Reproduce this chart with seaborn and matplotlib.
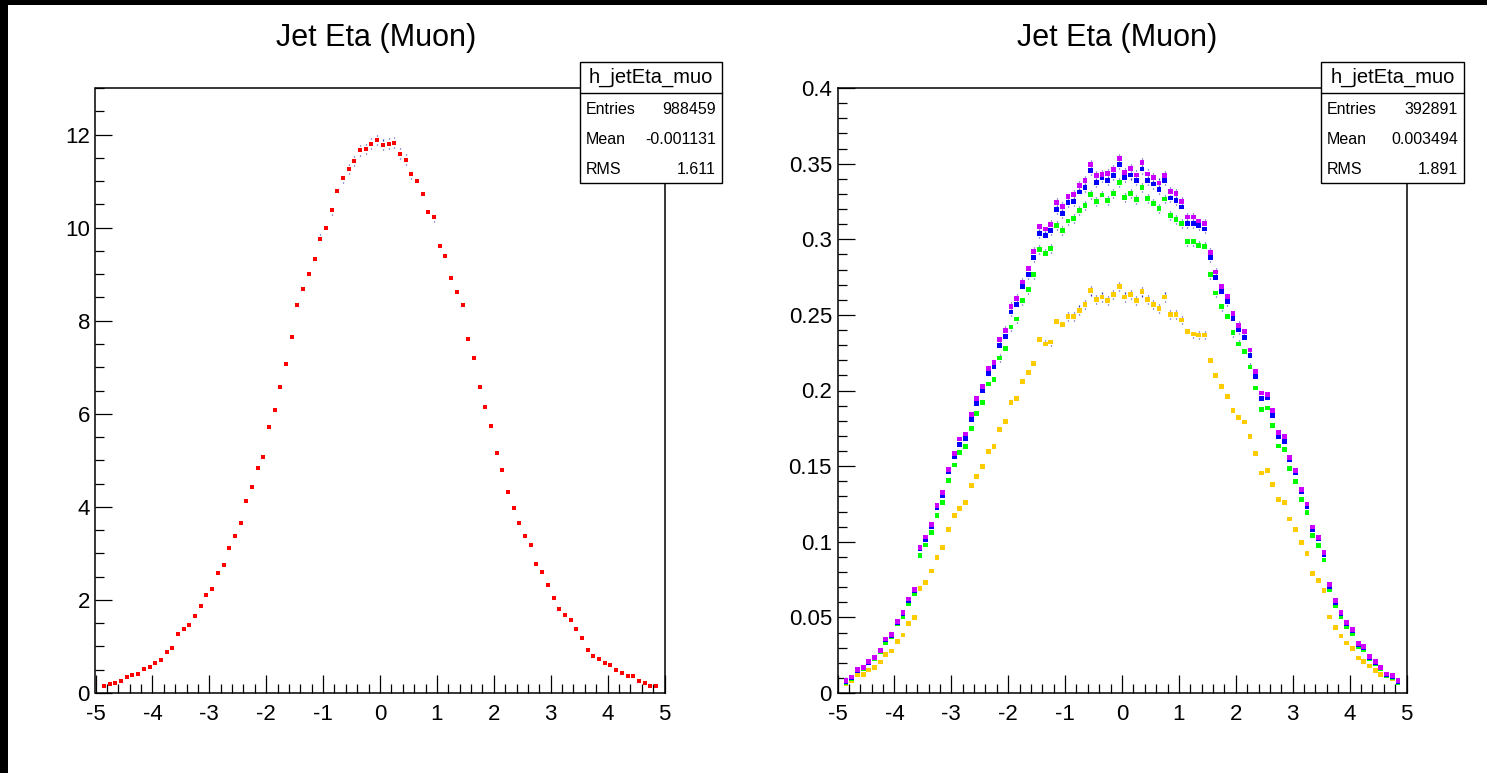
import numpy as np
import pandas as pd
import matplotlib
matplotlib.use("Agg")
import matplotlib.pyplot as plt
from matplotlib.patches import Rectangle
from matplotlib.lines import Line2D
from matplotlib.ticker import MultipleLocator, FuncFormatter
import seaborn as sns

# ---------------------------------------------------------------- binning
eta_lo, eta_hi, n_bins = -4.9, 4.9, 98
edges = np.linspace(eta_lo, eta_hi, n_bins + 1)
eta = 0.5 * (edges[:-1] + edges[1:])

# ---------------------------------------------------------------- left pad: jet eta
left_vals = [
    0.143, 0.183, 0.215, 0.262, 0.334, 0.382, 0.413, 0.525, 0.556, 0.652,
    0.707, 0.874, 0.970, 1.272, 1.367, 1.463, 1.661, 1.860, 2.107, 2.226,
    2.576, 2.742, 3.116, 3.363, 3.657, 4.126, 4.420, 4.841, 5.064, 5.723,
    6.089, 6.566, 7.075, 7.639, 8.331, 8.680, 8.998, 9.316, 9.762, 10.000,
    10.374, 10.795, 11.065, 11.264, 11.431, 11.661, 11.685, 11.804, 11.884, 11.781,
    11.804, 11.828, 11.590, 11.463, 11.161, 10.994, 10.723, 10.326, 10.223, 9.610,
    9.396, 8.919, 8.609, 8.331, 7.615, 7.202, 6.566, 6.145, 5.739, 5.159,
    4.793, 4.324, 3.975, 3.657, 3.363, 3.188, 2.774, 2.599, 2.321, 2.051,
    1.812, 1.669, 1.566, 1.367, 1.176, 0.930, 0.787, 0.731, 0.636, 0.604,
    0.485, 0.429, 0.366, 0.366, 0.254, 0.215, 0.159, 0.159]
left_errs = [
    0.011, 0.012, 0.013, 0.015, 0.017, 0.018, 0.019, 0.021, 0.022, 0.023,
    0.024, 0.027, 0.029, 0.033, 0.034, 0.035, 0.037, 0.040, 0.042, 0.043,
    0.047, 0.048, 0.051, 0.053, 0.055, 0.059, 0.061, 0.064, 0.065, 0.069,
    0.072, 0.074, 0.077, 0.080, 0.084, 0.085, 0.087, 0.089, 0.091, 0.092,
    0.093, 0.095, 0.096, 0.108, 0.110, 0.112, 0.112, 0.114, 0.115, 0.114,
    0.114, 0.114, 0.112, 0.110, 0.106, 0.096, 0.095, 0.093, 0.093, 0.090,
    0.089, 0.087, 0.085, 0.084, 0.080, 0.078, 0.074, 0.072, 0.069, 0.066,
    0.063, 0.060, 0.058, 0.055, 0.053, 0.052, 0.048, 0.047, 0.044, 0.042,
    0.039, 0.037, 0.036, 0.034, 0.031, 0.028, 0.026, 0.025, 0.023, 0.023,
    0.020, 0.019, 0.018, 0.018, 0.015, 0.013, 0.012, 0.012]

# ---------------------------------------------------------------- right pad: four samples
violet_vals = [
    0.0080, 0.0106, 0.0155, 0.0171, 0.0208, 0.0237, 0.0283, 0.0357, 0.0389, 0.0473,
    0.0531, 0.0621, 0.0686, 0.0964, 0.1031, 0.1116, 0.1242, 0.1324, 0.1478, 0.1582,
    0.1679, 0.1713, 0.1843, 0.1947, 0.2029, 0.2143, 0.2186, 0.2338, 0.2399, 0.2556,
    0.2609, 0.2717, 0.2804, 0.2918, 0.3082, 0.3068, 0.3099, 0.3242, 0.3217, 0.3280,
    0.3297, 0.3355, 0.3386, 0.3493, 0.3423, 0.3428, 0.3435, 0.3459, 0.3534, 0.3444,
    0.3466, 0.3425, 0.3507, 0.3432, 0.3406, 0.3372, 0.3423, 0.3316, 0.3302, 0.3251,
    0.3147, 0.3147, 0.3121, 0.3104, 0.2911, 0.2783, 0.2688, 0.2621, 0.2507, 0.2432,
    0.2389, 0.2268, 0.2126, 0.1983, 0.1971, 0.1870, 0.1722, 0.1696, 0.1558, 0.1471,
    0.1345, 0.1249, 0.1097, 0.1029, 0.0928, 0.0715, 0.0611, 0.0531, 0.0466, 0.0420,
    0.0326, 0.0307, 0.0242, 0.0208, 0.0171, 0.0126, 0.0116, 0.0082]
blue_vals = [
    0.0075, 0.0101, 0.0150, 0.0167, 0.0203, 0.0232, 0.0278, 0.0350, 0.0382, 0.0466,
    0.0524, 0.0609, 0.0676, 0.0954, 0.1014, 0.1097, 0.1225, 0.1304, 0.1466, 0.1565,
    0.1645, 0.1684, 0.1809, 0.1915, 0.1998, 0.2111, 0.2155, 0.2300, 0.2357, 0.2519,
    0.2570, 0.2688, 0.2766, 0.2877, 0.3039, 0.3027, 0.3056, 0.3196, 0.3171, 0.3242,
    0.3251, 0.3312, 0.3341, 0.3454, 0.3377, 0.3406, 0.3386, 0.3420, 0.3493, 0.3406,
    0.3425, 0.3386, 0.3464, 0.3386, 0.3365, 0.3331, 0.3386, 0.3273, 0.3254, 0.3213,
    0.3104, 0.3104, 0.3092, 0.3068, 0.2877, 0.2749, 0.2657, 0.2587, 0.2478, 0.2401,
    0.2353, 0.2234, 0.2092, 0.1947, 0.1954, 0.1836, 0.1693, 0.1664, 0.1543, 0.1457,
    0.1329, 0.1234, 0.1082, 0.1019, 0.0918, 0.0703, 0.0599, 0.0522, 0.0457, 0.0411,
    0.0319, 0.0300, 0.0234, 0.0200, 0.0167, 0.0121, 0.0111, 0.0077]
green_vals = [
    0.0070, 0.0097, 0.0145, 0.0162, 0.0198, 0.0227, 0.0271, 0.0336, 0.0374, 0.0459,
    0.0507, 0.0594, 0.0657, 0.0911, 0.0978, 0.1063, 0.1174, 0.1258, 0.1403, 0.1507,
    0.1592, 0.1628, 0.1749, 0.1848, 0.1920, 0.2043, 0.2072, 0.2215, 0.2278, 0.2420,
    0.2473, 0.2594, 0.2667, 0.2766, 0.2932, 0.2908, 0.2940, 0.3092, 0.3058, 0.3121,
    0.3135, 0.3188, 0.3225, 0.3297, 0.3251, 0.3292, 0.3258, 0.3302, 0.3377, 0.3278,
    0.3304, 0.3261, 0.3341, 0.3271, 0.3239, 0.3203, 0.3266, 0.3157, 0.3130, 0.3104,
    0.2983, 0.2983, 0.2961, 0.2954, 0.2766, 0.2645, 0.2553, 0.2488, 0.2382, 0.2307,
    0.2258, 0.2155, 0.2017, 0.1877, 0.1884, 0.1771, 0.1633, 0.1611, 0.1483, 0.1401,
    0.1280, 0.1191, 0.1039, 0.0973, 0.0879, 0.0681, 0.0580, 0.0502, 0.0442, 0.0396,
    0.0309, 0.0287, 0.0227, 0.0193, 0.0159, 0.0116, 0.0104, 0.0070]
orange_vals = [
    0.0063, 0.0080, 0.0121, 0.0121, 0.0152, 0.0171, 0.0205, 0.0256, 0.0278, 0.0338,
    0.0384, 0.0459, 0.0498, 0.0691, 0.0729, 0.0807, 0.0896, 0.0961, 0.1082, 0.1174,
    0.1222, 0.1258, 0.1370, 0.1432, 0.1500, 0.1599, 0.1628, 0.1742, 0.1795, 0.1920,
    0.1947, 0.2058, 0.2118, 0.2179, 0.2336, 0.2307, 0.2321, 0.2457, 0.2435, 0.2490,
    0.2490, 0.2531, 0.2570, 0.2659, 0.2601, 0.2618, 0.2597, 0.2633, 0.2686, 0.2618,
    0.2633, 0.2594, 0.2652, 0.2601, 0.2568, 0.2541, 0.2618, 0.2502, 0.2502, 0.2466,
    0.2389, 0.2374, 0.2367, 0.2367, 0.2200, 0.2101, 0.2027, 0.1959, 0.1870, 0.1824,
    0.1792, 0.1696, 0.1585, 0.1454, 0.1469, 0.1379, 0.1280, 0.1258, 0.1150, 0.1082,
    0.0993, 0.0920, 0.0790, 0.0744, 0.0676, 0.0502, 0.0435, 0.0377, 0.0331, 0.0295,
    0.0232, 0.0208, 0.0179, 0.0150, 0.0121, 0.0116, 0.0092, 0.0068]

violet_errs = [
    0.0005, 0.0005, 0.0006, 0.0007, 0.0007, 0.0008, 0.0009, 0.0010, 0.0010, 0.0011,
    0.0012, 0.0013, 0.0013, 0.0016, 0.0016, 0.0017, 0.0018, 0.0019, 0.0020, 0.0020,
    0.0021, 0.0021, 0.0022, 0.0023, 0.0023, 0.0024, 0.0024, 0.0025, 0.0025, 0.0026,
    0.0026, 0.0027, 0.0027, 0.0028, 0.0028, 0.0028, 0.0028, 0.0029, 0.0029, 0.0029,
    0.0029, 0.0030, 0.0030, 0.0030, 0.0030, 0.0030, 0.0030, 0.0030, 0.0030, 0.0030,
    0.0030, 0.0030, 0.0030, 0.0030, 0.0030, 0.0030, 0.0030, 0.0029, 0.0029, 0.0029,
    0.0029, 0.0029, 0.0028, 0.0028, 0.0028, 0.0027, 0.0026, 0.0026, 0.0026, 0.0025,
    0.0025, 0.0024, 0.0024, 0.0023, 0.0023, 0.0022, 0.0021, 0.0021, 0.0020, 0.0020,
    0.0019, 0.0018, 0.0017, 0.0016, 0.0016, 0.0014, 0.0013, 0.0012, 0.0011, 0.0010,
    0.0009, 0.0009, 0.0008, 0.0007, 0.0007, 0.0006, 0.0005, 0.0005]
blue_errs = [
    0.0004, 0.0005, 0.0006, 0.0007, 0.0007, 0.0008, 0.0009, 0.0010, 0.0010, 0.0011,
    0.0012, 0.0013, 0.0013, 0.0016, 0.0016, 0.0017, 0.0018, 0.0018, 0.0020, 0.0020,
    0.0021, 0.0021, 0.0022, 0.0022, 0.0023, 0.0023, 0.0024, 0.0024, 0.0025, 0.0026,
    0.0026, 0.0026, 0.0027, 0.0027, 0.0028, 0.0028, 0.0028, 0.0029, 0.0029, 0.0029,
    0.0029, 0.0029, 0.0029, 0.0030, 0.0030, 0.0030, 0.0030, 0.0030, 0.0030, 0.0030,
    0.0030, 0.0030, 0.0030, 0.0030, 0.0030, 0.0029, 0.0030, 0.0029, 0.0029, 0.0029,
    0.0028, 0.0028, 0.0028, 0.0028, 0.0027, 0.0027, 0.0026, 0.0026, 0.0025, 0.0025,
    0.0025, 0.0024, 0.0023, 0.0023, 0.0023, 0.0022, 0.0021, 0.0021, 0.0020, 0.0019,
    0.0019, 0.0018, 0.0017, 0.0016, 0.0015, 0.0014, 0.0012, 0.0012, 0.0011, 0.0010,
    0.0009, 0.0009, 0.0008, 0.0007, 0.0007, 0.0006, 0.0005, 0.0004]
green_errs = [
    0.0004, 0.0005, 0.0006, 0.0006, 0.0007, 0.0008, 0.0008, 0.0009, 0.0010, 0.0011,
    0.0011, 0.0012, 0.0013, 0.0015, 0.0016, 0.0017, 0.0017, 0.0018, 0.0019, 0.0020,
    0.0020, 0.0021, 0.0021, 0.0022, 0.0022, 0.0023, 0.0023, 0.0024, 0.0024, 0.0025,
    0.0025, 0.0026, 0.0026, 0.0027, 0.0028, 0.0028, 0.0028, 0.0028, 0.0028, 0.0028,
    0.0029, 0.0029, 0.0029, 0.0029, 0.0029, 0.0029, 0.0029, 0.0029, 0.0030, 0.0029,
    0.0029, 0.0029, 0.0029, 0.0029, 0.0029, 0.0029, 0.0029, 0.0029, 0.0029, 0.0028,
    0.0028, 0.0028, 0.0028, 0.0028, 0.0027, 0.0026, 0.0026, 0.0025, 0.0025, 0.0024,
    0.0024, 0.0024, 0.0023, 0.0022, 0.0022, 0.0021, 0.0021, 0.0020, 0.0020, 0.0019,
    0.0018, 0.0018, 0.0016, 0.0016, 0.0015, 0.0013, 0.0012, 0.0011, 0.0011, 0.0010,
    0.0009, 0.0009, 0.0008, 0.0007, 0.0006, 0.0005, 0.0005, 0.0004]
orange_errs = [
    0.0004, 0.0005, 0.0006, 0.0006, 0.0006, 0.0007, 0.0007, 0.0008, 0.0009, 0.0009,
    0.0010, 0.0011, 0.0011, 0.0013, 0.0014, 0.0014, 0.0015, 0.0016, 0.0017, 0.0017,
    0.0018, 0.0018, 0.0019, 0.0019, 0.0020, 0.0020, 0.0021, 0.0021, 0.0022, 0.0022,
    0.0023, 0.0023, 0.0023, 0.0024, 0.0025, 0.0024, 0.0025, 0.0025, 0.0025, 0.0029,
    0.0029, 0.0031, 0.0031, 0.0031, 0.0031, 0.0031, 0.0031, 0.0031, 0.0031, 0.0031,
    0.0031, 0.0031, 0.0031, 0.0031, 0.0031, 0.0031, 0.0031, 0.0031, 0.0031, 0.0029,
    0.0025, 0.0025, 0.0025, 0.0025, 0.0024, 0.0023, 0.0023, 0.0023, 0.0022, 0.0022,
    0.0022, 0.0021, 0.0020, 0.0019, 0.0020, 0.0019, 0.0018, 0.0018, 0.0017, 0.0017,
    0.0016, 0.0015, 0.0014, 0.0014, 0.0013, 0.0011, 0.0011, 0.0010, 0.0009, 0.0009,
    0.0008, 0.0007, 0.0007, 0.0006, 0.0006, 0.0005, 0.0005, 0.0004]

samples = ["orange", "green", "blue", "violet"]          # drawing order
sample_vals = {"orange": orange_vals, "green": green_vals,
               "blue": blue_vals, "violet": violet_vals}
sample_errs = {"orange": orange_errs, "green": green_errs,
               "blue": blue_errs, "violet": violet_errs}
palette = {"orange": "#ffcc00", "green": "#00ff00",
           "blue": "#0000ff", "violet": "#cc00ff"}

title_text = "Jet Eta (Muon)"
hist_name = "h_jetEta_muo"
stat_labels = ["Entries", "Mean", "RMS"]
stats_left = ["988459", "-0.001131", "1.611"]
stats_right = ["392891", "0.003494", "1.891"]

# ---------------------------------------------------------------- style
sns.set_style("white")
plt.rcParams["font.family"] = ["Liberation Sans", "DejaVu Sans"]
plt.rcParams["axes.unicode_minus"] = False
plt.rcParams["text.color"] = "black"
plt.rcParams["xtick.color"] = "black"
plt.rcParams["ytick.color"] = "black"
plt.rcParams["xtick.bottom"] = True
plt.rcParams["ytick.left"] = True

W, H = 1487, 773
fig = plt.figure(figsize=(W / 100, H / 100), dpi=100)
fig.patch.set_facecolor("white")

ERR_COLOR = "#000099"
MARKER_S = 12


def frame_axes(rect_px):
    x0, y0, x1, y1 = rect_px
    return fig.add_axes([x0 / W, 1 - y1 / H, (x1 - x0) / W, (y1 - y0) / H])


def draw_errors(ax, x, vals, errs, gap):
    v = np.asarray(vals, dtype=float)
    e = np.asarray(errs, dtype=float)
    m = e > gap
    kw = dict(color=ERR_COLOR, lw=0.9, alpha=0.8, zorder=2)
    ax.vlines(x[m], v[m] + gap, v[m] + e[m], **kw)
    ax.vlines(x[m], v[m] - e[m], v[m] - gap, **kw)


def style_axes(ax, ymax, ymajor, yminor):
    ax.set_xlim(-5, 5)
    ax.set_ylim(0, ymax)
    ax.xaxis.set_major_locator(MultipleLocator(1))
    ax.xaxis.set_minor_locator(MultipleLocator(0.2))
    ax.yaxis.set_major_locator(MultipleLocator(ymajor))
    ax.yaxis.set_minor_locator(MultipleLocator(yminor))
    fmt = FuncFormatter(lambda v, p: f"{round(v, 6):g}")
    ax.xaxis.set_major_formatter(fmt)
    ax.yaxis.set_major_formatter(fmt)
    ax.tick_params(axis="x", which="both", bottom=True, top=False, direction="in",
                   colors="black", width=0.9)
    ax.tick_params(axis="y", which="both", left=True, right=False, direction="in",
                   colors="black", width=0.9)
    ax.tick_params(axis="x", which="major", length=13, labelsize=16, pad=8)
    ax.tick_params(axis="x", which="minor", length=6.8)
    ax.tick_params(axis="y", which="major", length=12.5, labelsize=16, pad=4)
    ax.tick_params(axis="y", which="minor", length=6.3)
    for s in ax.spines.values():
        s.set_color("black")
        s.set_linewidth(1.1)
    ax.set_xlabel("")
    ax.set_ylabel("")
    ax.grid(False)


# ---------------------------------------------------------------- left pad
ax1 = frame_axes((95.5, 88, 664.5, 693))
draw_errors(ax1, eta, left_vals, left_errs, gap=0.09)
sns.scatterplot(x=eta, y=left_vals, color="#ff0000", marker="s", s=MARKER_S,
                linewidth=0, ax=ax1, zorder=3, legend=False)
style_axes(ax1, 13, 2, 0.5)

# ---------------------------------------------------------------- right pad
ax2 = frame_axes((837.5, 88, 1406.5, 693))
df = pd.concat([pd.DataFrame({"eta": eta, "value": sample_vals[k], "sample": k})
                for k in samples], ignore_index=True)
for k in samples:
    draw_errors(ax2, eta, sample_vals[k], sample_errs[k], gap=0.0023)
sns.scatterplot(data=df, x="eta", y="value", hue="sample", hue_order=samples,
                palette=palette, marker="s", s=MARKER_S, linewidth=0, ax=ax2,
                zorder=3, legend=False)
style_axes(ax2, 0.4, 0.05, 0.01)

# ---------------------------------------------------------------- titles
for cx in (376, 1117):
    fig.text(cx / W, 1 - 38 / H, title_text, ha="center", va="center",
             fontsize=22, color="black")


# ---------------------------------------------------------------- statistics boxes
def stats_box(x0, x1, values):
    y0, y1, ydiv = 62, 183, 92.5
    fig.add_artist(Rectangle((x0 / W, 1 - y1 / H), (x1 - x0) / W, (y1 - y0) / H,
                             transform=fig.transFigure, facecolor="white",
                             edgecolor="black", lw=1.0, zorder=10))
    fig.add_artist(Line2D([x0 / W, x1 / W], [1 - ydiv / H] * 2,
                          transform=fig.transFigure, color="black", lw=1.0, zorder=11))
    t = fig.text((x0 + x1) / 2 / W, 1 - 77.5 / H, hist_name, ha="center",
                 va="center", fontsize=14.5)
    t.set_zorder(12)
    for lab, val, yy in zip(stat_labels, values, (109, 139, 169)):
        a = fig.text((x0 + 6) / W, 1 - yy / H, lab, ha="left", va="center",
                     fontsize=11.5)
        b = fig.text((x1 - 6) / W, 1 - yy / H, val, ha="right", va="center",
                     fontsize=11.5)
        a.set_zorder(12)
        b.set_zorder(12)


stats_box(580, 722, stats_left)
stats_box(1321, 1464, stats_right)

# ---------------------------------------------------------------- canvas border
fig.add_artist(Rectangle((0, 1 - 5 / H), 1, 5 / H, transform=fig.transFigure,
                         facecolor="black", edgecolor="none", zorder=20))
fig.add_artist(Rectangle((0, 0), 8 / W, 1, transform=fig.transFigure,
                         facecolor="black", edgecolor="none", zorder=20))

fig.savefig("out.png", dpi=100)
